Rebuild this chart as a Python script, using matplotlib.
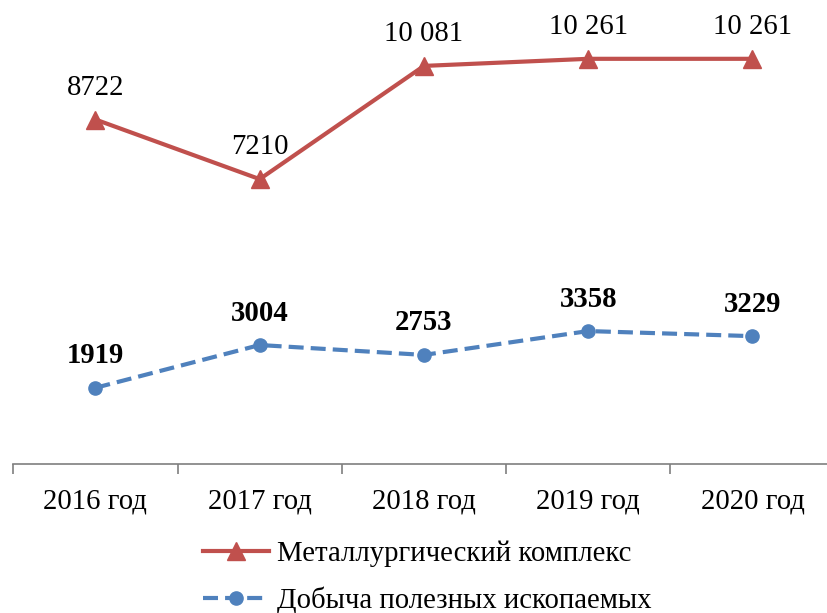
import matplotlib.pyplot as plt

years = ["2016 год", "2017 год", "2018 год", "2019 год", "2020 год"]
metal = [8722, 7210, 10081, 10261, 10261]
mining = [1919, 3004, 2753, 3358, 3229]
metal_labels = ["8722", "7210", "10 081", "10 261", "10 261"]
mining_labels = ["1919", "3004", "2753", "3358", "3229"]

plt.rcParams['font.family'] = ['Liberation Serif', 'DejaVu Serif']
FS = 20.7

W, H = 827, 613
fig = plt.figure(figsize=(W / 100, H / 100), dpi=100)
# axes placed in pixels: left 13, right ~835, bottom at y=463, top at y=6
left, right, top, bottom = 13.3, 834.6, 6, 463.5
ax = fig.add_axes([left / W, (H - bottom) / H, (right - left) / W, (bottom - top) / H])

x = list(range(len(years)))
l1, = ax.plot(x, metal, color='#C0504D', lw=3, marker='^', ms=12.5,
              label="Металлургический комплекс")
l2, = ax.plot(x, mining, color='#4F81BD', lw=3, marker='o', ms=9.5,
              dashes=(3.6, 1.7), label="Добыча полезных ископаемых")

for xi, v, s in zip(x, metal, metal_labels):
    ax.annotate(s, (xi, v), xytext=(0, 23), textcoords='offset points',
                ha='center', va='center', fontsize=FS, color='black')
for xi, v, s in zip(x, mining, mining_labels):
    ax.annotate(s, (xi, v), xytext=(0, 23), textcoords='offset points',
                ha='center', va='center', fontsize=FS, fontweight='bold', color='black')

ax.set_xlim(-0.5, len(years) - 0.5)
ax.set_ylim(0, 11600)
ax.set_yticks([])
for side in ['left', 'right', 'top']:
    ax.spines[side].set_visible(False)
ax.spines['bottom'].set_color('#7f7f7f')
ax.spines['bottom'].set_linewidth(1.2)

# category labels centred, ticks at boundaries
ax.set_xticks(x, years, fontsize=FS)
ax.tick_params(axis='x', which='major', length=0, pad=18)
ax.set_xticks([i - 0.5 for i in range(len(years) + 1)], minor=True)
ax.tick_params(axis='x', which='minor', length=7, width=1.2, color='#7f7f7f', direction='out')

fig.legend(handles=[l1, l2], loc='center', bbox_to_anchor=(427 / W, 1 - 577 / H),
           frameon=False, fontsize=FS, handlelength=2.3, handletextpad=0.28,
           labelspacing=0.68, borderpad=0)

fig.savefig("out.png", dpi=100)
